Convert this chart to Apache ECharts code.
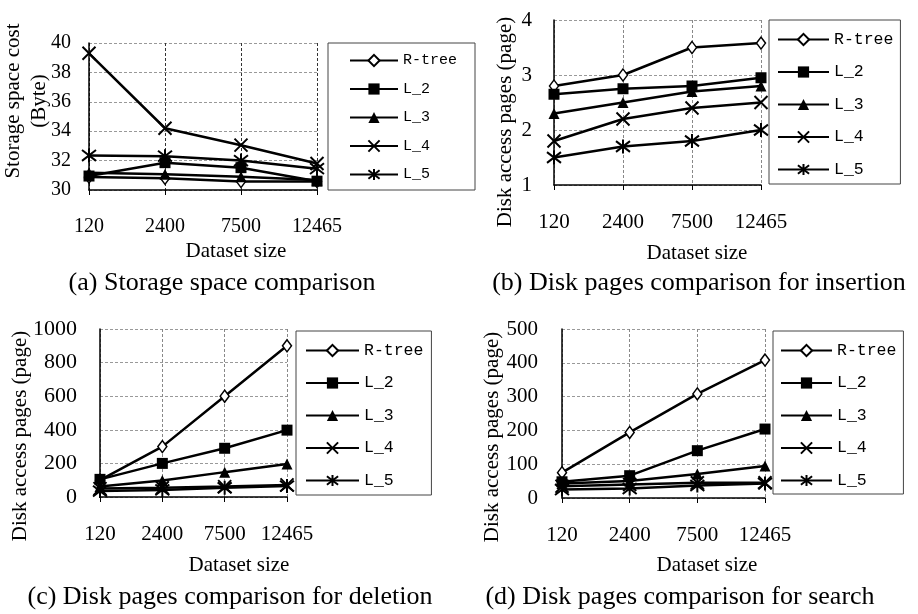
<!DOCTYPE html>
<html><head><meta charset="utf-8">
<script src="https://cdn.jsdelivr.net/npm/echarts@6/dist/echarts.min.js"></script>
<style>html,body{margin:0;padding:0;background:#fff}#c{width:918px;height:614px}</style>
</head><body><div id="c"></div>
<script>
const categories = ['120', '2400', '7500', '12465'];
const seriesNames = ['R-tree', 'L_2', 'L_3', 'L_4', 'L_5'];

// (a) Storage space cost (Byte)
const storageRtree = [30.88, 30.8, 30.57, 30.57];
const storageL2 = [30.95, 31.86, 31.52, 30.6];
const storageL3 = [31.18, 31.07, 30.9, 30.68];
const storageL4 = [39.3, 34.2, 33.05, 31.8];
const storageL5 = [32.35, 32.3, 32.0, 31.45];
// (b) Disk pages for insertion
const insertRtree = [2.8, 3.0, 3.5, 3.58];
const insertL2 = [2.65, 2.75, 2.8, 2.95];
const insertL3 = [2.3, 2.5, 2.7, 2.8];
const insertL4 = [1.8, 2.2, 2.4, 2.5];
const insertL5 = [1.5, 1.7, 1.8, 2.0];
// (c) Disk pages for deletion
const deleteRtree = [100, 300, 600, 900];
const deleteL2 = [105, 200, 290, 398];
const deleteL3 = [63, 98, 148, 197];
const deleteL4 = [50, 55, 62, 72];
const deleteL5 = [35, 42, 55, 65];
// (d) Disk pages for search
const searchRtree = [75, 194, 308, 408];
const searchL2 = [48, 66, 140, 204];
const searchL3 = [43, 50, 71, 95];
const searchL4 = [35, 40, 45, 45];
const searchL5 = [25, 28, 37, 43];

// y-axis tick ranges: [min, max, interval]
const yTicksA = [30, 40, 2];
const yTicksB = [1, 4, 1];
const yTicksC = [0, 1000, 200];
const yTicksD = [0, 500, 100];

const xAxisName = 'Dataset size';
const yAxisNames = ['Storage space cost\n(Byte)', 'Disk access pages (page)', 'Disk access pages (page)', 'Disk access pages (page)'];
const captions = ['(a) Storage space comparison', '(b) Disk pages comparison for insertion', '(c) Disk pages comparison for deletion', '(d) Disk pages comparison for search'];

const panelData = [
  [storageRtree, storageL2, storageL3, storageL4, storageL5],
  [insertRtree, insertL2, insertL3, insertL4, insertL5],
  [deleteRtree, deleteL2, deleteL3, deleteL4, deleteL5],
  [searchRtree, searchL2, searchL3, searchL4, searchL5]
];
const panelTicks = [yTicksA, yTicksB, yTicksC, yTicksD];

// layout (not data)
const grids = [
  {left: 89, top: 43, width: 228, height: 147},
  {left: 554, top: 20, width: 207, height: 165},
  {left: 100, top: 329, width: 187, height: 168},
  {left: 562, top: 329, width: 203, height: 169}
];
const tickFont = [20, 21, 21, 21];
const yTickFont = [20, 21, 22, 21];
const yLabelMargin = [18, 22, 23, 24];
const xSplitColor = ['#333', '#888', '#888', '#888'];
const legendLayout = [
  {left: 328, top: 43, padding: [10, 18, 8, 21], itemWidth: 48, itemGap: 13.5, fontSize: 15},
  {left: 769, top: 20, padding: [11, 7, 6, 8], itemWidth: 51, itemGap: 15.5, fontSize: 16.5},
  {left: 296, top: 331, padding: [11, 8, 6, 9], itemWidth: 53, itemGap: 15.5, fontSize: 16.5},
  {left: 773, top: 331, padding: [11, 7, 5, 7], itemWidth: 51, itemGap: 15.5, fontSize: 16.5}
];
const yNamePos = [[26, 101], [505, 122], [20, 436], [492, 437]];
const xNamePos = [[236, 251], [697, 253], [239, 565], [707, 565]];
const captionPos = [[222, 283], [699, 283], [230, 597], [680, 597]];

const symbols = ['diamond', 'rect', 'triangle',
  'path://M0,0L10,10M10,0L0,10',
  'path://M0,0L10,10M10,0L0,10M5,-1.5L5,11.5'];
const symbolSizes = [[9, 12], 11, 11, 13, 14];

const serif = '"Liberation Serif", "Times New Roman", serif';
const mono = '"Liberation Mono", "DejaVu Sans Mono", monospace';

const chart = echarts.init(document.getElementById('c'), null, {renderer: 'canvas'});

const xAxes = grids.map((g, i) => ({
  type: 'category', gridIndex: i, data: categories, boundaryGap: false,
  axisLine: {lineStyle: {color: '#000', width: 1.5}},
  axisTick: {show: true, length: 5, interval: 0, lineStyle: {color: '#000'}},
  axisLabel: {color: '#000', fontFamily: serif, fontSize: tickFont[i], margin: 27, interval: 0, hideOverlap: false},
  splitLine: {show: true, interval: 0, lineStyle: {type: [3, 2], color: xSplitColor[i], width: 1}}
}));
const yAxes = grids.map((g, i) => ({
  type: 'value', gridIndex: i,
  min: panelTicks[i][0], max: panelTicks[i][1], interval: panelTicks[i][2],
  axisLine: {show: true, lineStyle: {color: '#000', width: 1.5}},
  axisTick: {show: false},
  axisLabel: {color: '#000', fontFamily: serif, fontSize: yTickFont[i], margin: yLabelMargin[i],
    formatter: (v) => String(v)},
  splitLine: {show: true, lineStyle: {type: [3, 2], color: '#999', width: 1}}
}));

const series = [];
panelData.forEach((arrs, p) => {
  arrs.forEach((vals, j) => {
    series.push({
      type: 'line', name: seriesNames[j], xAxisIndex: p, yAxisIndex: p,
      data: vals, symbol: symbols[j], symbolSize: symbolSizes[j],
      showAllSymbol: true,
      lineStyle: {color: '#000', width: 2.5},
      itemStyle: {
        color: j === 0 ? '#fff' : '#000',
        borderColor: '#000',
        borderWidth: j === 0 ? 1.5 : (j >= 3 ? 2 : 0)
      },
      emphasis: {disabled: true},
      z: 3
    });
  });
});

const legends = legendLayout.map((l) => ({
  data: seriesNames, orient: 'vertical', left: l.left, top: l.top,
  padding: l.padding, itemWidth: l.itemWidth, itemHeight: 14, itemGap: l.itemGap,
  borderColor: '#444', borderWidth: 1, backgroundColor: '#fff',
  textStyle: {color: '#000', fontFamily: mono, fontSize: l.fontSize},
  selectedMode: false
}));

const graphics = [];
for (let i = 0; i < 4; i++) {
  graphics.push({
    type: 'text', x: yNamePos[i][0], y: yNamePos[i][1], rotation: Math.PI / 2,
    style: {text: yAxisNames[i], font: '21px ' + serif, fill: '#000',
      textAlign: 'center', textVerticalAlign: 'middle', align: 'center', verticalAlign: 'middle', lineHeight: 26}
  });
  graphics.push({
    type: 'text', x: xNamePos[i][0], y: xNamePos[i][1],
    style: {text: xAxisName, font: '21px ' + serif, fill: '#000',
      textAlign: 'center', textVerticalAlign: 'middle', align: 'center', verticalAlign: 'middle'}
  });
  graphics.push({
    type: 'text', x: captionPos[i][0], y: captionPos[i][1],
    style: {text: captions[i], font: '26px ' + serif, fill: '#000',
      textAlign: 'center', textVerticalAlign: 'middle', align: 'center', verticalAlign: 'middle'}
  });
}

chart.setOption({
  animation: false,
  backgroundColor: '#fff',
  grid: grids.map(g => Object.assign({containLabel: false}, g)),
  xAxis: xAxes,
  yAxis: yAxes,
  legend: legends,
  series: series,
  graphic: graphics
});
</script></body></html>
